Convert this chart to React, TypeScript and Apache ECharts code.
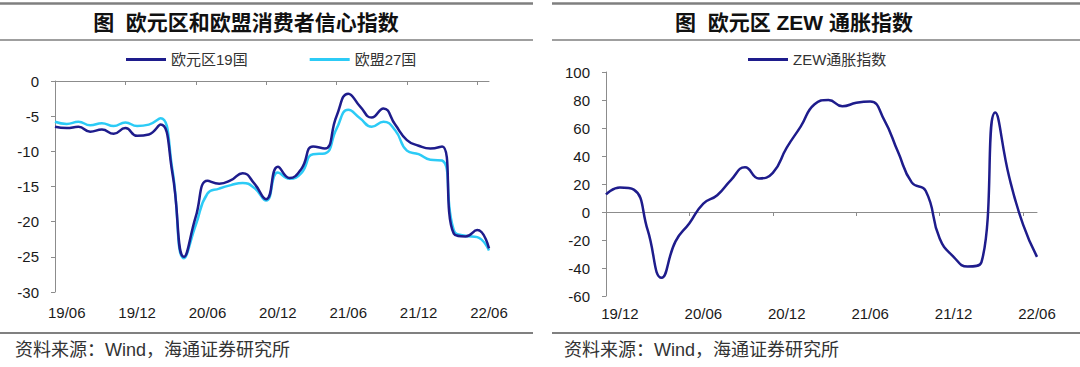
import React, { useEffect, useRef } from "react";
import * as echarts from "echarts";

const leftMonths = ["19/05","19/06","19/07","19/08","19/09","19/10","19/11","19/12","20/01","20/02","20/03","20/04","20/05","20/06","20/07","20/08","20/09","20/10","20/11","20/12","21/01","21/02","21/03","21/04","21/05","21/06","21/07","21/08","21/09","21/10","21/11","21/12","22/01","22/02","22/03","22/04","22/05","22/06"];
const ezConf = [-6.5,-6.7,-6.5,-7.2,-6.9,-7.5,-6.7,-7.8,-7.6,-6.2,-13.0,-25.0,-19.3,-14.2,-14.6,-14.1,-13.1,-14.6,-16.8,-12.2,-13.8,-12.5,-9.3,-9.6,-5.0,-1.8,-3.6,-5.2,-3.9,-6.2,-8.4,-9.2,-9.6,-9.3,-21.7,-22.1,-21.2,-23.8];
const euConf = [-5.8,-6.1,-5.8,-6.3,-6.0,-6.4,-5.9,-6.4,-6.2,-5.3,-12.5,-25.2,-20.5,-16.0,-15.3,-14.8,-14.5,-15.2,-17.0,-13.0,-13.9,-13.1,-10.4,-10.3,-6.8,-4.1,-5.3,-6.5,-5.8,-7.0,-9.9,-10.4,-11.2,-11.3,-21.2,-22.0,-22.2,-24.1];

const rightMonths = ["19/11","19/12","20/01","20/02","20/03","20/04","20/05","20/06","20/07","20/08","20/09","20/10","20/11","20/12","21/01","21/02","21/03","21/04","21/05","21/06","21/07","21/08","21/09","21/10","21/11","21/12","22/01","22/02","22/03","22/04","22/05","22/06"];
const zewInfl = [12.5,17.5,16,-13,-47,-21,-8,6,12,23,32,24,28,46,61,77,80,75.5,78,79,66,43,21,15,-19,-32,-39,-36,71,25,-9,-32];

const leftTitle = "图  欧元区和欧盟消费者信心指数";
const rightTitle = "图  欧元区 ZEW 通胀指数";
const sourceText = "资料来源：Wind，海通证券研究所";
const ezName = "欧元区19国";
const euName = "欧盟27国";
const zewName = "ZEW通胀指数";

const FONT = '"Liberation Sans", Arial, "Noto Sans CJK SC", sans-serif';
const AXIS_COLOR = "#8c8c8c";
const LABEL_COLOR = "#1a1a1a";
const DARK = "#1E1C8C";
const LIGHT = "#2CCBF6";

export default function App() {
  const ref = useRef<HTMLDivElement>(null);
  useEffect(() => {
    if (!ref.current) return;
    const chart = echarts.init(ref.current, null, { renderer: "svg" });
    const tickEvery6 = (i: number) => i % 6 === 0;
    const labelEvery6 = (i: number) => i % 6 === 1;
    const yLabel = { fontSize: 15, color: LABEL_COLOR, fontFamily: FONT, margin: 16 };
    const xLabel = { fontSize: 15, color: LABEL_COLOR, fontFamily: FONT };
    const legendText = { fontSize: 15, color: "#333", fontFamily: FONT };
    const option: any = {
      animation: false,
      backgroundColor: "#ffffff",
      grid: [
        { left: 55, right: 1080 - 489, top: 81, bottom: 367 - 292 },
        { left: 606, right: 1080 - 1037, top: 72, bottom: 367 - 296 },
      ],
      legend: [
        {
          data: [ezName, euName],
          left: 126,
          top: 52,
          padding: 0,
          icon: "rect",
          itemWidth: 40,
          itemHeight: 3,
          itemGap: 62,
          textStyle: legendText,
        },
        {
          data: [zewName],
          left: 748,
          top: 52,
          padding: 0,
          icon: "rect",
          itemWidth: 40,
          itemHeight: 3,
          textStyle: legendText,
        },
      ],
      xAxis: [
        {
          gridIndex: 0,
          type: "category",
          data: leftMonths,
          position: "top",
          boundaryGap: false,
          axisLine: { onZero: false, lineStyle: { color: AXIS_COLOR, width: 1 } },
          axisTick: { inside: true, length: 4, interval: tickEvery6, lineStyle: { color: AXIS_COLOR } },
          axisLabel: { show: false },
          splitLine: { show: false },
        },
        {
          gridIndex: 0,
          type: "category",
          data: leftMonths,
          position: "bottom",
          boundaryGap: false,
          axisLine: { show: false, onZero: false },
          axisTick: { show: false },
          axisLabel: { ...xLabel, interval: labelEvery6, margin: 13 },
          splitLine: { show: false },
        },
        {
          gridIndex: 1,
          type: "category",
          data: rightMonths,
          boundaryGap: false,
          axisLine: { onZero: true, lineStyle: { color: AXIS_COLOR, width: 1 } },
          axisTick: { length: 4, interval: tickEvery6, lineStyle: { color: AXIS_COLOR } },
          axisLabel: { show: false },
          splitLine: { show: false },
        },
        {
          gridIndex: 1,
          type: "category",
          data: rightMonths,
          position: "bottom",
          boundaryGap: false,
          axisLine: { show: false, onZero: false },
          axisTick: { show: false },
          axisLabel: { ...xLabel, interval: labelEvery6, margin: 10 },
          splitLine: { show: false },
        },
      ],
      yAxis: [
        {
          gridIndex: 0,
          type: "value",
          min: -30,
          max: 0,
          interval: 5,
          axisLine: { show: true, lineStyle: { color: AXIS_COLOR, width: 1 } },
          axisTick: { show: true, length: 4, lineStyle: { color: AXIS_COLOR } },
          axisLabel: yLabel,
          splitLine: { show: false },
        },
        {
          gridIndex: 1,
          type: "value",
          min: -60,
          max: 100,
          interval: 20,
          axisLine: { show: true, lineStyle: { color: AXIS_COLOR, width: 1 } },
          axisTick: { show: true, length: 4, lineStyle: { color: AXIS_COLOR } },
          axisLabel: yLabel,
          splitLine: { show: false },
        },
      ],
      series: [
        {
          name: euName,
          type: "line",
          xAxisIndex: 0,
          yAxisIndex: 0,
          data: euConf,
          smooth: true,
          symbol: "none",
          lineStyle: { color: LIGHT, width: 2.5 },
          itemStyle: { color: LIGHT },
        },
        {
          name: ezName,
          type: "line",
          xAxisIndex: 0,
          yAxisIndex: 0,
          data: ezConf,
          smooth: true,
          symbol: "none",
          lineStyle: { color: DARK, width: 2.5 },
          itemStyle: { color: DARK },
        },
        {
          name: zewName,
          type: "line",
          xAxisIndex: 2,
          yAxisIndex: 1,
          data: zewInfl,
          smooth: true,
          symbol: "none",
          lineStyle: { color: DARK, width: 2.5 },
          itemStyle: { color: DARK },
        },
      ],
      graphic: [
        { type: "line", shape: { x1: 0, y1: 3.5, x2: 533, y2: 3.5 }, style: { stroke: "#7f7f7f", lineWidth: 2.5 } },
        { type: "line", shape: { x1: 552, y1: 3.5, x2: 1080, y2: 3.5 }, style: { stroke: "#7f7f7f", lineWidth: 2.5 } },
        { type: "line", shape: { x1: 0, y1: 40, x2: 533, y2: 40 }, style: { stroke: "#404040", lineWidth: 1.2 } },
        { type: "line", shape: { x1: 552, y1: 40, x2: 1080, y2: 40 }, style: { stroke: "#404040", lineWidth: 1.2 } },
        { type: "line", shape: { x1: 0, y1: 333, x2: 533, y2: 333 }, style: { stroke: "#808080", lineWidth: 2 } },
        { type: "line", shape: { x1: 552, y1: 333, x2: 1080, y2: 333 }, style: { stroke: "#808080", lineWidth: 2 } },
        {
          type: "text", x: 246, y: 22,
          style: { text: leftTitle, fontSize: 21, fontWeight: "bold", fill: "#111", fontFamily: FONT, textAlign: "center", textVerticalAlign: "middle" },
        },
        {
          type: "text", x: 794, y: 22,
          style: { text: rightTitle, fontSize: 21, fontWeight: "bold", fill: "#111", fontFamily: FONT, textAlign: "center", textVerticalAlign: "middle" },
        },
        {
          type: "text", x: 15, y: 350,
          style: { text: sourceText, fontSize: 18, fill: "#333", fontFamily: FONT, textAlign: "left", textVerticalAlign: "middle" },
        },
        {
          type: "text", x: 564, y: 350,
          style: { text: sourceText, fontSize: 18, fill: "#333", fontFamily: FONT, textAlign: "left", textVerticalAlign: "middle" },
        },
      ],
    };
    chart.setOption(option);
    return () => chart.dispose();
  }, []);
  return <div ref={ref} style={{ position: "absolute", left: 0, top: 0, width: 1080, height: 367 }} />;
}
